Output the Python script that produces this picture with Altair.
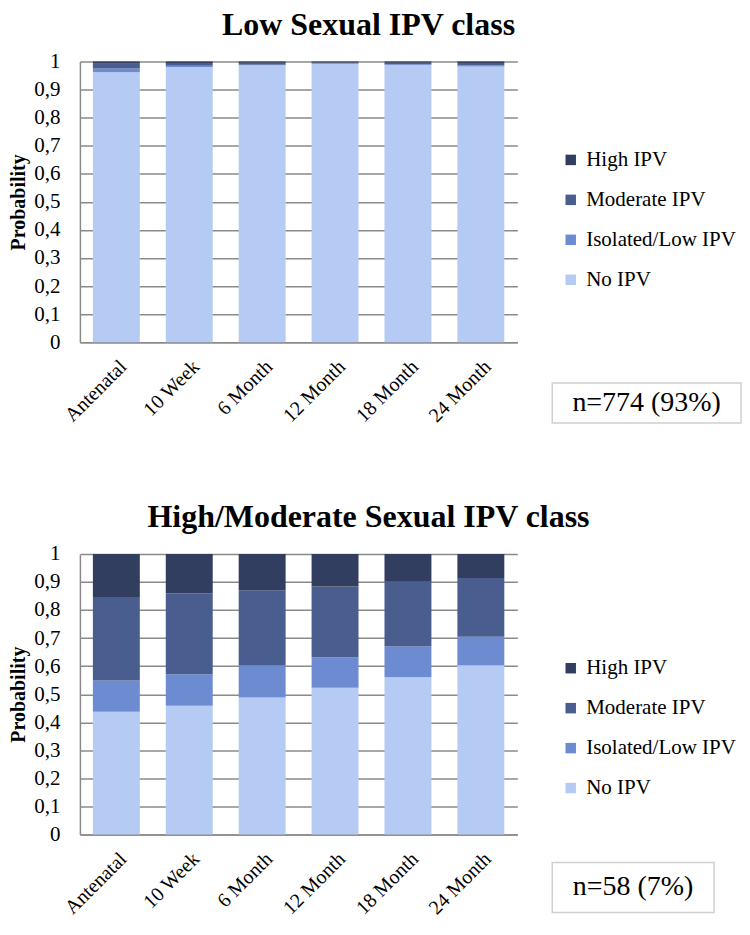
import altair as alt
import pandas as pd

timepoints = ["Antenatal", "10 Week", "6 Month", "12 Month", "18 Month", "24 Month"]
classes = ["High IPV", "Moderate IPV", "Isolated/Low IPV", "No IPV"]
colors = ["#313E5F", "#4A5D8F", "#6D8BD1", "#B6CBF4"]

# Low Sexual IPV class
low_no = [0.962, 0.981, 0.987, 0.992, 0.988, 0.982]
low_iso = [0.013, 0.004, 0.002, 0.001, 0.002, 0.005]
low_mod = [0.017, 0.010, 0.007, 0.004, 0.006, 0.008]
low_high = [0.008, 0.005, 0.004, 0.003, 0.004, 0.005]

# High/Moderate Sexual IPV class
hm_no = [0.437, 0.459, 0.488, 0.523, 0.560, 0.603]
hm_iso = [0.112, 0.112, 0.114, 0.109, 0.110, 0.102]
hm_mod = [0.297, 0.288, 0.268, 0.252, 0.231, 0.209]
hm_high = [0.154, 0.141, 0.130, 0.116, 0.099, 0.086]

titles = ["Low Sexual IPV class", "High/Moderate Sexual IPV class"]
n_labels = ["n=774 (93%)", "n=58 (7%)"]

FONT = "Liberation Serif"


def make_df(no, iso, mod, high):
    rows = []
    series = {"No IPV": no, "Isolated/Low IPV": iso, "Moderate IPV": mod, "High IPV": high}
    order = {"No IPV": 0, "Isolated/Low IPV": 1, "Moderate IPV": 2, "High IPV": 3}
    for cls, vals in series.items():
        for t, v in zip(timepoints, vals):
            rows.append({"time": t, "cls": cls, "value": v, "rank": order[cls]})
    return pd.DataFrame(rows)


def panel(df, title, nlabel, box_w, box_y, box_h, legend_y):
    W, H = 438, 281
    bars = alt.Chart(df).mark_bar(size=47).encode(
        x=alt.X("time:N", sort=timepoints, title=None,
                scale=alt.Scale(paddingInner=0.35, paddingOuter=0.175),
                axis=alt.Axis(labelAngle=-45, labelFontSize=20, labelFont=FONT,
                              labelColor="#000", domainColor="#8a8a8a", domainWidth=1.5,
                              ticks=False, labelPadding=14, grid=False)),
        y=alt.Y("value:Q", stack="zero", title="Probability",
                scale=alt.Scale(domain=[0, 1], nice=False),
                axis=alt.Axis(values=[i / 10 for i in range(11)],
                              labelExpr="datum.value == 0 ? '0' : datum.value == 1 ? '1' : replace(format(datum.value, '.1f'), '.', ',')",
                              labelFontSize=21, labelFont=FONT, labelColor="#000",
                              ticks=False, labelPadding=20, domainColor="#8a8a8a", domainWidth=1.5,
                              gridColor="#8a8a8a", gridWidth=1.5,
                              titleFont=FONT, titleFontSize=20, titleFontWeight="bold",
                              titleColor="#000", titlePadding=5)),
        color=alt.Color("cls:N", scale=alt.Scale(domain=classes, range=colors),
                        legend=alt.Legend(title=None, orient="none", legendX=481, legendY=legend_y,
                                          symbolType="square", symbolSize=110, symbolStrokeWidth=0,
                                          labelFont=FONT, labelFontSize=21, labelColor="#000",
                                          rowPadding=18, labelOffset=5)),
        order=alt.Order("rank:Q", sort="ascending"),
    )
    box = alt.Chart(pd.DataFrame({"a": [0]})).mark_rect(
        fill="white", stroke="#d0d0d0", strokeWidth=1.5).encode(
        x=alt.value(473), x2=alt.value(473 + box_w),
        y=alt.value(box_y), y2=alt.value(box_y + box_h))
    txt = alt.Chart(pd.DataFrame({"t": [nlabel]})).mark_text(
        font=FONT, fontSize=28, color="#000", align="center", baseline="middle").encode(
        x=alt.value(473 + box_w / 2), y=alt.value(box_y + box_h / 2), text="t:N")
    return alt.layer(bars, box, txt).properties(
        width=W, height=H,
        title=alt.TitleParams(title, font=FONT, fontSize=32, fontWeight="bold", color="#000",
                              anchor="middle", dx=70, offset=9),
    )


df_low = make_df(low_no, low_iso, low_mod, low_high)
df_hm = make_df(hm_no, hm_iso, hm_mod, hm_high)

chart = alt.vconcat(
    panel(df_low, titles[0], n_labels[0], 189, 322, 40, 88),
    panel(df_hm, titles[1], n_labels[1], 162, 309, 50, 104),
    spacing=75,
).resolve_scale(color="independent").resolve_legend(color="independent").configure_view(
    stroke=None).configure_legend(labelFont=FONT).properties(
    padding={"left": 0, "top": 0, "right": 0, "bottom": 0})

chart.save("out.html", embed_options={"renderer": "svg", "actions": False})
